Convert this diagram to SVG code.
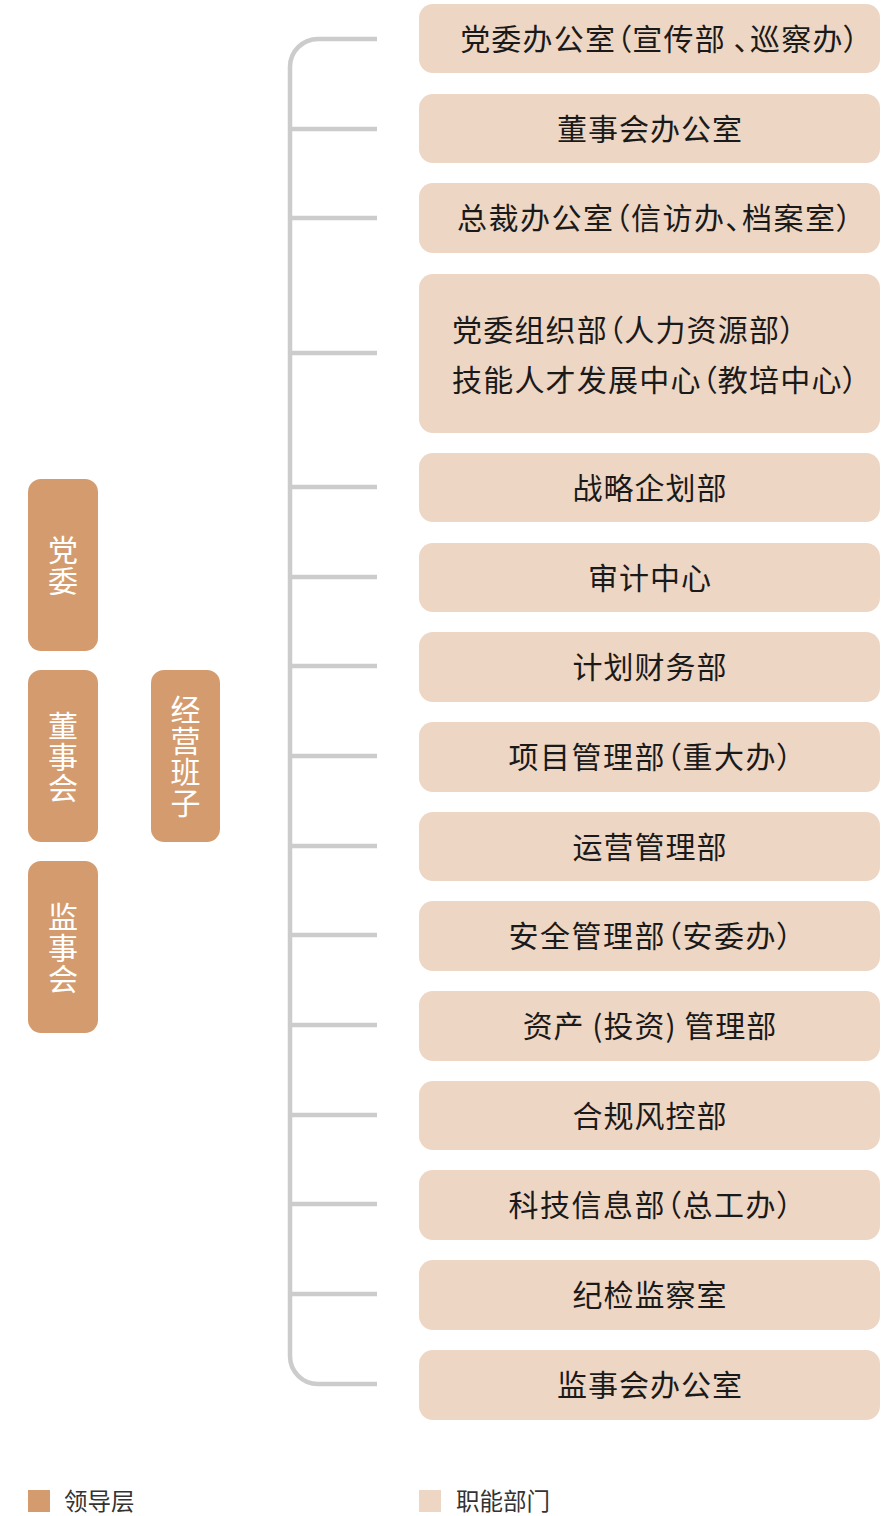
<svg xmlns="http://www.w3.org/2000/svg" width="896" height="1516" viewBox="0 0 896 1516">
<style>
.lead{fill:#D49C6E;}
.func{fill:#EED6C4;}
.conn{fill:none;stroke:#CCCCCC;stroke-width:4.5;}
.vt{font-family:"Noto Sans CJK SC","Noto Sans",sans-serif;font-size:30px;fill:#FFFFFF;text-anchor:middle;dominant-baseline:central;}
.lb{font-family:"Noto Sans CJK SC","Noto Sans",sans-serif;font-size:30px;fill:#1A1A1A;text-anchor:middle;dominant-baseline:central;letter-spacing:1px;}
.lbl{font-family:"Noto Sans CJK SC","Noto Sans",sans-serif;font-size:30px;fill:#1A1A1A;dominant-baseline:central;letter-spacing:1.2px;font-feature-settings:'palt';}
.par{letter-spacing:1.5px;font-feature-settings:'palt';}
.lg{font-family:"Noto Sans CJK SC","Noto Sans",sans-serif;font-size:23.5px;fill:#333333;dominant-baseline:central;}
</style>
<rect width="896" height="1516" fill="#FFFFFF"/>
<g id="connectors">
<path class="conn" d="M377,39 H318 A28,28 0 0 0 290,67 V1356 A28,28 0 0 0 318,1384 H377"/>
<path class="conn" d="M290,129 H377 M290,218 H377 M290,353 H377 M290,487 H377 M290,577 H377 M290,666 H377 M290,756 H377 M290,846 H377 M290,935 H377 M290,1025 H377 M290,1115 H377 M290,1204 H377 M290,1294 H377"/>
</g>
<g id="n-dangwei"><rect class="lead" x="28" y="479" width="70" height="172" rx="13"/><text class="vt"><tspan x="63" y="548">党</tspan><tspan x="63" y="579">委</tspan></text></g>
<g id="n-dongshihui"><rect class="lead" x="28" y="670" width="70" height="172" rx="13"/><text class="vt"><tspan x="63" y="724">董</tspan><tspan x="63" y="755">事</tspan><tspan x="63" y="786">会</tspan></text></g>
<g id="n-jianshihui"><rect class="lead" x="28" y="861" width="70" height="172" rx="13"/><text class="vt"><tspan x="63" y="915">监</tspan><tspan x="63" y="946">事</tspan><tspan x="63" y="977">会</tspan></text></g>
<g id="n-jingying"><rect class="lead" x="151" y="670" width="69" height="172" rx="13"/><text class="vt"><tspan x="185.5" y="708">经</tspan><tspan x="185.5" y="739">营</tspan><tspan x="185.5" y="770">班</tspan><tspan x="185.5" y="801">子</tspan></text></g>
<g id="d1"><rect class="func" x="419" y="4" width="461" height="69" rx="14"/><text class="lb par" x="660" y="37" style="letter-spacing:1.2px">党委办公室（宣传部 、巡察办）</text></g>
<g id="d2"><rect class="func" x="419" y="94" width="461" height="69" rx="14"/><text class="lb" x="650" y="127">董事会办公室</text></g>
<g id="d3"><rect class="func" x="419" y="183" width="461" height="70" rx="14"/><text class="lb par" x="655" y="216">总裁办公室（信访办、档案室）</text></g>
<g id="d4"><rect class="func" x="419" y="274" width="461" height="159" rx="14"/><text class="lbl" x="452" y="327.5">党委组织部（人力资源部）</text><text class="lbl" x="452" y="377.5">技能人才发展中心（教培中心）</text></g>
<g id="d5"><rect class="func" x="419" y="453" width="461" height="69" rx="14"/><text class="lb" x="650" y="485.5">战略企划部</text></g>
<g id="d6"><rect class="func" x="419" y="543" width="461" height="69" rx="14"/><text class="lb" x="650" y="575.5">审计中心</text></g>
<g id="d7"><rect class="func" x="419" y="632" width="461" height="70" rx="14"/><text class="lb" x="650" y="665">计划财务部</text></g>
<g id="d8"><rect class="func" x="419" y="722" width="461" height="70" rx="14"/><text class="lb par" x="651" y="755">项目管理部（重大办）</text></g>
<g id="d9"><rect class="func" x="419" y="812" width="461" height="69" rx="14"/><text class="lb" x="650" y="844.5">运营管理部</text></g>
<g id="d10"><rect class="func" x="419" y="901" width="461" height="70" rx="14"/><text class="lb par" x="651" y="934">安全管理部（安委办）</text></g>
<g id="d11"><rect class="func" x="419" y="991" width="461" height="70" rx="14"/><text class="lb" x="650" y="1024">资产 (投资) 管理部</text></g>
<g id="d12"><rect class="func" x="419" y="1081" width="461" height="69" rx="14"/><text class="lb" x="650" y="1113.5">合规风控部</text></g>
<g id="d13"><rect class="func" x="419" y="1170" width="461" height="70" rx="14"/><text class="lb par" x="651" y="1203">科技信息部（总工办）</text></g>
<g id="d14"><rect class="func" x="419" y="1260" width="461" height="70" rx="14"/><text class="lb" x="650" y="1293">纪检监察室</text></g>
<g id="d15"><rect class="func" x="419" y="1350" width="461" height="70" rx="14"/><text class="lb" x="650" y="1383">监事会办公室</text></g>
<g id="legend">
<rect class="lead" x="28" y="1490" width="22" height="22"/><text class="lg" x="64" y="1500">领导层</text>
<rect class="func" x="419" y="1490" width="22" height="22"/><text class="lg" x="456" y="1500">职能部门</text>
</g>
</svg>
